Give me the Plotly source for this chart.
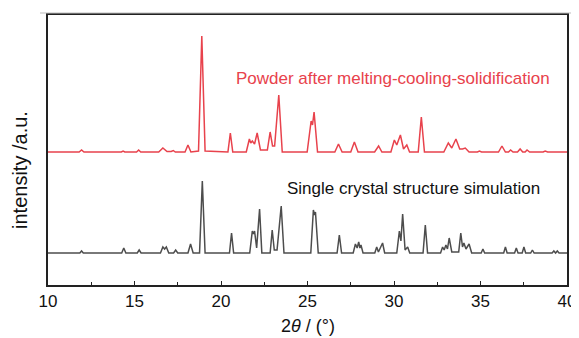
import plotly.graph_objects as go

# Powder pattern vertices (2theta, intensity above its baseline)
red_x = [10.0,
         11.80, 11.94, 12.08,
         14.24, 14.34, 14.44,
         15.12, 15.24, 15.36,
         16.40, 16.64, 16.88,
         17.12, 17.24, 17.36,
         17.92, 18.09, 18.26,
         18.70, 18.89, 19.08,
         20.40, 20.54, 20.68,
         21.46, 21.64, 21.72, 21.81, 21.94, 22.09, 22.28,
         22.68, 22.84, 22.98, 23.10, 23.34, 23.54,
         24.98, 25.21, 25.29, 25.38, 25.58,
         26.58, 26.79, 27.00,
         27.50, 27.71, 27.92,
         28.88, 29.11, 29.30,
         29.82, 30.02, 30.16, 30.37, 30.55, 30.74, 30.90,
         31.40, 31.58, 31.76,
         32.88, 33.14, 33.34, 33.58, 33.80, 33.96, 34.12, 34.34,
         34.82, 34.94, 35.06,
         36.04, 36.24, 36.44,
         36.62, 36.74, 36.88,
         37.14, 37.29, 37.44,
         37.58, 37.69, 37.84,
         38.62, 38.74, 38.88,
         40.0]
red_y = [0,
         0, 2, 0,
         0, 1, 0,
         0, 2, 0,
         0, 4, 0.5,
         0.5, 1.5, 0,
         0, 7, 0,
         1, 116, 1,
         0, 19, 0,
         0, 13, 9, 11, 8, 19, 2,
         2, 20, 6, 6, 57, 0,
         0, 31, 27, 40, 0,
         0, 8, 0,
         0, 10, 0,
         0, 6, 0,
         0, 12, 7, 17, 3, 7, 0,
         0, 35, 0,
         0, 9, 4, 13, 3, 3, 4, 0,
         0, 1, 0,
         0, 6, 0,
         0, 2, 0,
         0, 3, 0,
         0, 2, 0,
         0, 1, 0,
         0]

# Simulated pattern vertices
black_x = [10.0,
           11.84, 11.94, 12.04,
           14.26, 14.38, 14.50,
           15.16, 15.27, 15.38,
           16.50, 16.64, 16.74, 16.84, 16.98,
           17.26, 17.38, 17.50,
           18.09, 18.24, 18.39,
           18.76, 18.92, 19.08,
           20.49, 20.61, 20.73,
           21.66, 21.81, 21.88, 21.94, 22.06, 22.23, 22.36,
           22.84, 22.96, 23.08, 23.24, 23.48, 23.64,
           25.19, 25.34, 25.40, 25.46, 25.62,
           26.71, 26.84, 26.97,
           27.64, 27.77, 27.87, 27.96, 28.03, 28.09, 28.21,
           28.89, 29.00, 29.10, 29.34, 29.46,
           30.16, 30.31, 30.40, 30.50, 30.64, 30.79, 30.91,
           31.68, 31.81, 31.94,
           32.69, 32.81, 32.90, 33.00, 33.09, 33.19, 33.34, 33.74, 33.86, 33.96, 34.04, 34.16, 34.34, 34.49,
           35.04, 35.14, 35.24,
           36.34, 36.44, 36.54,
           36.97, 37.07, 37.17,
           37.41, 37.51, 37.61,
           37.90, 38.00, 38.10,
           39.14, 39.24, 39.34, 39.44, 39.54,
           40.0]
black_y = [0,
           0, 2, 0,
           0, 5, 0,
           0, 3, 0,
           0, 6, 4, 6, 0,
           0, 3, 0,
           0, 9, 0,
           0, 72, 0,
           0, 20, 0,
           0, 22, 19, 22, 5, 44, 0,
           0, 23, 3, 3, 47, 0,
           0, 43, 38, 41, 0,
           0, 18, 0,
           0, 9, 5, 11, 5, 8, 0,
           0, 6, 1, 10, 0,
           0, 22, 12, 39, 3, 6, 0,
           0, 28, 0,
           0, 6, 3, 8, 4, 15, 1, 1, 20, 6, 10, 4, 9, 0,
           0, 4, 0,
           0, 6, 0,
           0, 5, 0,
           0, 6, 0,
           0, 3, 0,
           0, 2, 0, 2, 0,
           0]

red_offset = 101
red_label = "Powder after melting-cooling-solidification"
black_label = "Single crystal structure simulation"
x_title = "2<i>θ</i> / (°)"
y_title = "intensity /a.u."
x_ticks = [10, 15, 20, 25, 30, 35, 40]

FONT = "Liberation Sans, Arial, Helvetica, sans-serif"
RED = "#e8424c"
GRAY = "#4d4d4d"
INK = "#111111"

fig = go.Figure()
fig.add_trace(go.Scatter(x=black_x, y=black_y, mode="lines",
                         line=dict(color=GRAY, width=1.5), showlegend=False,
                         hoverinfo="skip"))
fig.add_trace(go.Scatter(x=red_x, y=[v + red_offset for v in red_y], mode="lines",
                         line=dict(color=RED, width=1.5), showlegend=False,
                         hoverinfo="skip"))

# series labels
fig.add_annotation(x=20.75, y=175, xref="x", yref="y", text=red_label,
                   xanchor="left", yanchor="middle", showarrow=False,
                   font=dict(family=FONT, size=17, color=RED))
fig.add_annotation(x=23.7, y=65, xref="x", yref="y", text=black_label,
                   xanchor="left", yanchor="middle", showarrow=False,
                   font=dict(family=FONT, size=17, color=INK))

# axis titles
fig.add_annotation(x=0.5, y=-0.152, xref="paper", yref="paper", text=x_title,
                   xanchor="center", yanchor="middle", showarrow=False,
                   font=dict(family=FONT, size=18, color=INK))
fig.add_annotation(x=-0.054, y=0.426, xref="paper", yref="paper", text=y_title,
                   textangle=-90, xanchor="center", yanchor="middle", showarrow=False,
                   font=dict(family=FONT, size=20, color=INK))

# light border line above the frame, as in the reference image
fig.add_shape(type="line", xref="paper", yref="paper",
              x0=-0.0154, x1=1.0173, y0=1.0074, y1=1.0074,
              line=dict(color="#bdbdbd", width=1))

# the page body adds an 8 px offset; size the figure so the plot lands in place
fig.update_layout(
    width=571, height=330,
    margin=dict(l=40, r=12, t=7, b=53),
    paper_bgcolor="white", plot_bgcolor="white",
    font=dict(family=FONT, size=17, color=INK),
    xaxis=dict(range=[10, 40], tickvals=x_ticks, ticks="inside", ticklen=4,
               tickcolor="#222", tickwidth=1, showline=True, linecolor="#222",
               linewidth=1.5, mirror=True, showgrid=False, zeroline=False,
               automargin=False, ticklabelstandoff=0,
               tickfont=dict(family=FONT, size=17, color=INK),
               minor=dict(dtick=2.5, ticks="inside", ticklen=3, tickcolor="#222")),
    yaxis=dict(range=[-32, 238], showticklabels=False, ticks="",
               showline=True, linecolor="#222", linewidth=1.5, mirror=True,
               showgrid=False, zeroline=False, automargin=False),
)

fig.write_html("out.html")
